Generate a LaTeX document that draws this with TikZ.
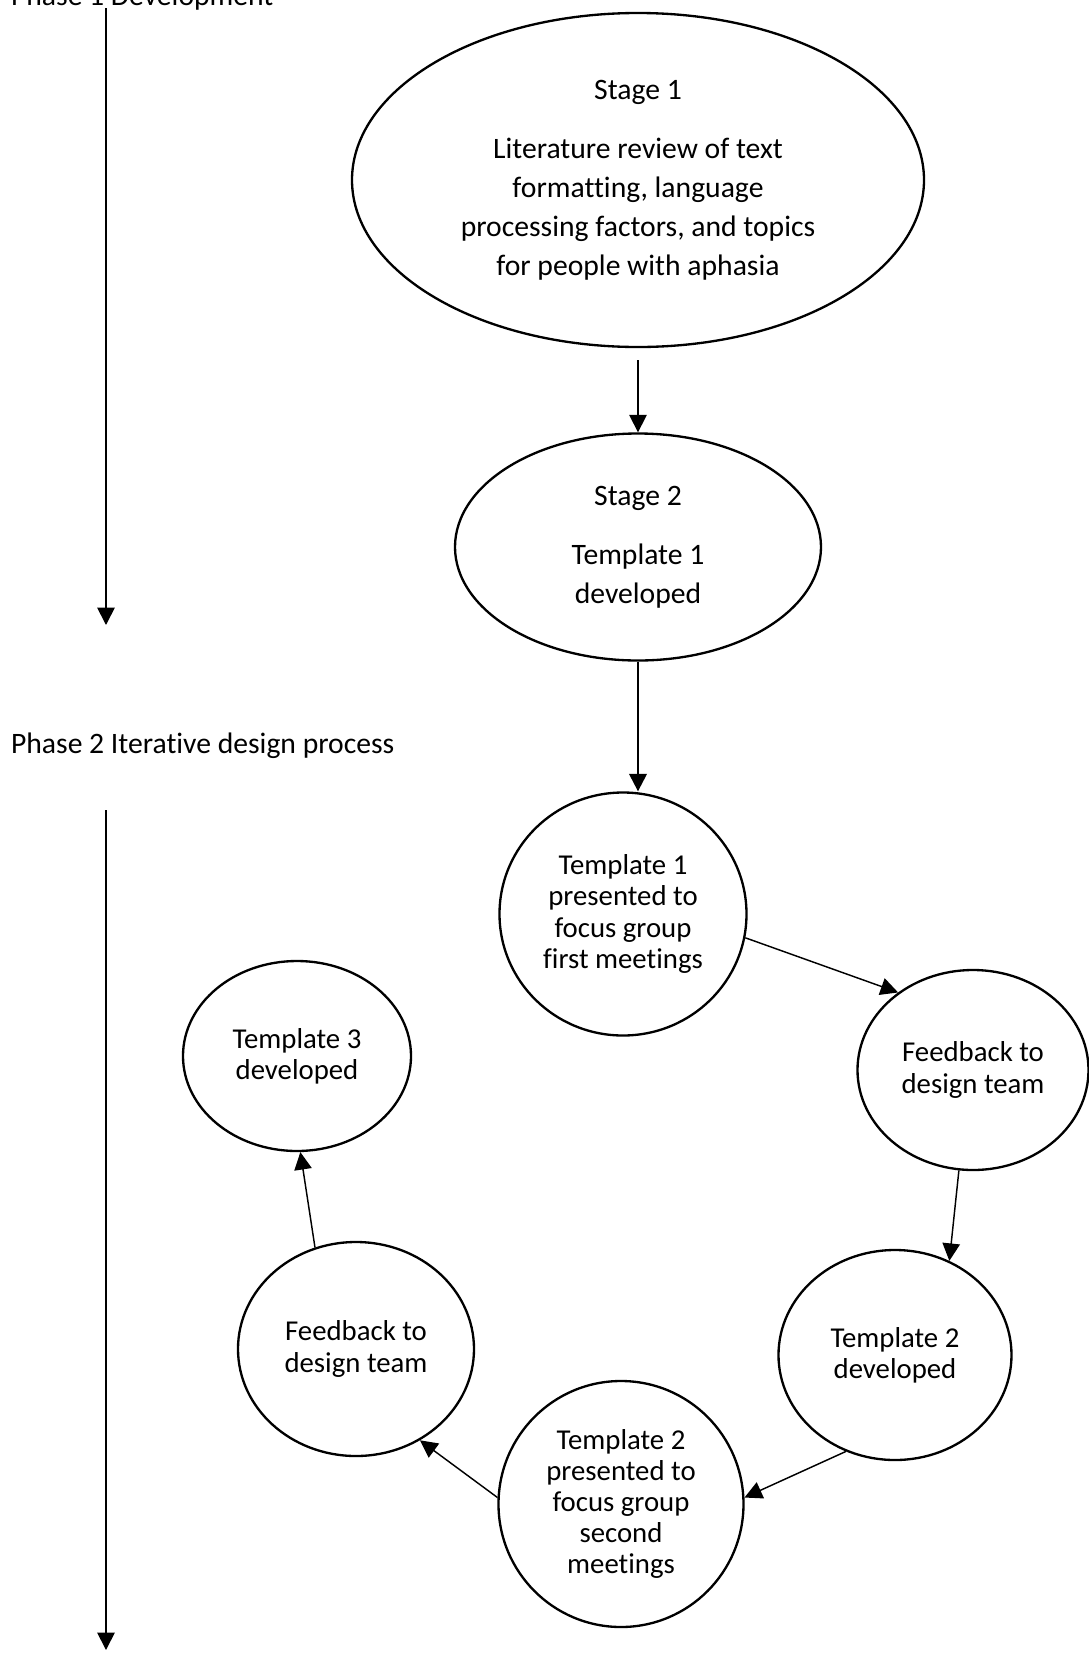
\documentclass[tikz,border=0pt]{standalone}
\usepackage{fontspec}
\setmainfont{Carlito}[Ligatures=CommonOff]
\usetikzlibrary{arrows.meta,positioning,shapes.geometric}
\newdimen\pxu \pxu=0.344pt

\begin{document}
\begin{tikzpicture}[
  x=\pxu, y=-\pxu,
  bubble/.style={draw, ellipse, line width=0.8pt, inner sep=0pt, align=center,
                 font=\fontsize{10.2}{13.4}\selectfont},
  ring/.style={bubble, font=\fontsize{9.9}{10.7}\selectfont},
  phase/.style={anchor=base west, inner sep=0pt, font=\fontsize{10.2}{13.4}\selectfont},
  arr/.style={-{Triangle[length=6pt, width=6pt]}, line width=0.5pt},
  thickarr/.style={arr, line width=0.8pt},
  phasearr/.style={arr, line width=0.6pt}]
\useasboundingbox (0,0) rectangle (1089,1657);
\node[bubble, minimum width=572\pxu, minimum height=334\pxu] (s1) at (638,180)
  {Stage 1\\[6.9pt] Literature review of text\\ formatting, language\\
   processing factors, and topics\\ for people with aphasia};
\node[bubble, minimum width=366\pxu, minimum height=227\pxu] (s2) at (638,547)
  {Stage 2\\[7pt] Template 1\\ developed};
\node[ring, minimum width=247\pxu, minimum height=243\pxu] (t1p) at (623,914)
  {Template 1\\ presented to\\ focus group\\ first meetings};
\node[ring, minimum width=231\pxu, minimum height=200\pxu] (fbr) at (973,1070)
  {Feedback to\\ design team};
\node[ring, minimum width=233\pxu, minimum height=210\pxu] (t2d) at (895,1355)
  {Template 2\\ developed};
\node[ring, minimum width=245\pxu, minimum height=246\pxu] (t2p) at (621,1504)
  {Template 2\\ presented to\\ focus group\\ second\\ meetings};
\node[ring, minimum width=236\pxu, minimum height=214\pxu] (fbl) at (356,1349)
  {Feedback to\\ design team};
\node[ring, minimum width=228\pxu, minimum height=190\pxu] (t3) at (297,1056)
  {Template 3\\ developed};
% phases
\node[phase] (ph1) at (10.5,5) {Phase 1 Development};
\node[phase] (ph2) at (10.5,753) {Phase 2 Iterative design process};
\coordinate (p1top) at (106,8);
\coordinate (p1end) at (106,625);
\coordinate (p2top) at (106,810);
\coordinate (p2end) at (106,1650);
\draw[phasearr] (p1top) -- (p1end);
\draw[phasearr] (p2top) -- (p2end);
% stages
\draw[arr, shorten <=12\pxu] (s1) -- (s2);
\draw[thickarr] (s2.south) -- (s2.south |- t1p.north);
% cycle
\draw[arr] (t1p.-11) -- (fbr.134);
\draw[arr] (fbr.262) -- (t2d.60);
\draw[arr] (t2d.243) -- (t2p.3);
\draw[arr] (t2p.177) -- (fbl.-55);
\draw[arr] (fbl.112) -- (t3.-88);
\end{tikzpicture}
\end{document}
